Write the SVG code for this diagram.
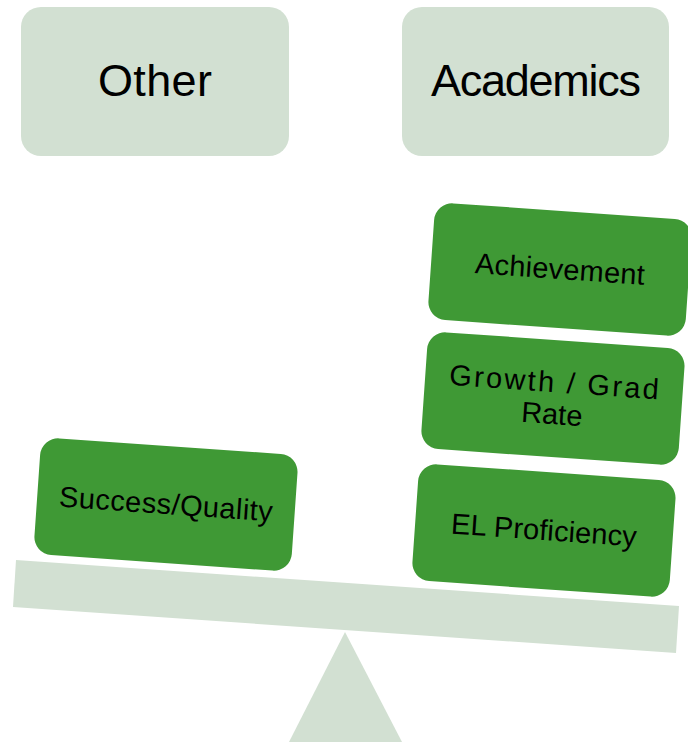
<svg xmlns="http://www.w3.org/2000/svg" width="688" height="742" viewBox="0 0 688 742">
<style>
.light{fill:#d2e0d2;}
.green{fill:#3f9935;}
.t{font-family:"Liberation Sans",Arial,sans-serif;fill:#000;text-anchor:middle;}
.big{font-size:45px;}
.sm{font-size:29px;}
</style>
<rect width="688" height="742" fill="#fff"/>
<g id="other">
<rect class="light" x="21" y="7" width="268" height="149" rx="20"/>
<text class="t big" x="155" y="96" textLength="114">Other</text>
</g>
<g id="academics">
<rect class="light" x="402" y="7" width="267" height="149" rx="20"/>
<text class="t big" x="536" y="96" textLength="210">Academics</text>
</g>
<g id="scale">
<polygon class="light" points="16,560 679,606 676,653 13,607"/>
<polygon class="light" points="345,632 402,742 289,742"/>
</g>
<g id="success-quality" transform="translate(166,504) rotate(4)">
<rect class="green" x="-129" y="-58" width="258" height="117" rx="18"/>
<text class="t sm" x="0" y="10" textLength="214">Success/Quality</text>
</g>
<g id="el-proficiency" transform="translate(544,530) rotate(4)">
<rect class="green" x="-129" y="-58" width="258" height="117" rx="18"/>
<text class="t sm" x="0" y="10" textLength="186">EL Proficiency</text>
</g>
<g id="growth-grad-rate" transform="translate(553,398) rotate(4)">
<rect class="green" x="-129" y="-58" width="258" height="117" rx="18"/>
<text class="t sm" x="0" y="-6" textLength="210">Growth / Grad</text>
<text class="t sm" x="0" y="26">Rate</text>
</g>
<g id="achievement" transform="translate(560,269) rotate(4)">
<rect class="green" x="-129" y="-58" width="258" height="117" rx="18"/>
<text class="t sm" x="0" y="10" textLength="170">Achievement</text>
</g>
<g id="connectors"></g>
</svg>
